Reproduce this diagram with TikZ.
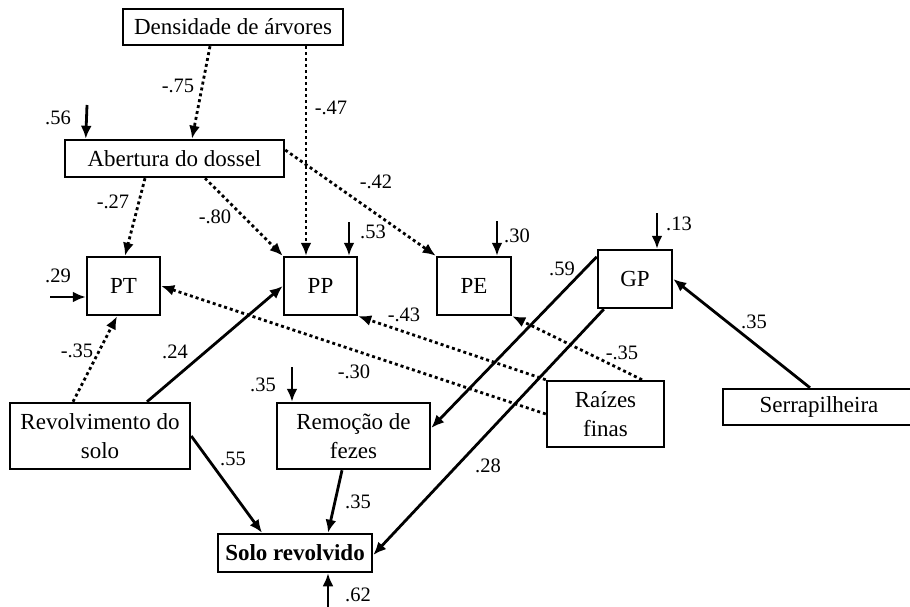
\documentclass[tikz,border=0pt]{standalone}
\usepackage{fontspec}
\setmainfont{Liberation Serif}
\usetikzlibrary{arrows.meta}
\begin{document}
\begin{tikzpicture}[x=1pt,y=-1pt,
  var/.style={draw, line width=2.5pt, rectangle, inner sep=0pt, align=center,
    font=\fontsize{23}{29}\selectfont},
  posarrow/.style={line width=2.8pt, -{Latex[length=13pt,width=11pt]}},
  negarrow/.style={posarrow, dash pattern=on 3pt off 3pt},
  coef/.style={font=\fontsize{20.5}{23}\selectfont, inner sep=0pt}]
\useasboundingbox (0,0) rectangle (910,607);

% variables
\node[var, minimum width=220pt, minimum height=36pt] (dens) at (233,27) {Densidade de árvores};
\node[var, minimum width=219pt, minimum height=37pt] (ab) at (174.5,158.5) {Abertura do dossel};
\node[var, minimum width=73pt, minimum height=58pt] (pt) at (123.5,286) {PT};
\node[var, minimum width=73pt, minimum height=58pt] (pp) at (320.5,286) {PP};
\node[var, minimum width=74pt, minimum height=58pt] (pe) at (474,286) {PE};
\node[var, minimum width=74pt, minimum height=58pt] (gp) at (635,279) {GP};
\node[var, minimum width=117pt, minimum height=66pt] (raiz) at (605.5,414) {Raízes\\finas};
\node[var, minimum width=192pt, minimum height=36pt] (serr) at (819,407) {Serrapilheira};
\node[var, minimum width=180pt, minimum height=66pt] (rev) at (100,436) {Revolvimento do\\solo};
\node[var, minimum width=153pt, minimum height=66pt] (rem) at (353.5,436) {Remoção de\\fezes};
\node[var, minimum width=154pt, minimum height=38pt] (solo) at (295,553) {\textbf{Solo revolvido}};

% error terms
\coordinate (eab) at (87,105);
\coordinate (ept) at (50,297);
\coordinate (epp) at (349,222);
\coordinate (epe) at (497,221);
\coordinate (egp) at (657,213);
\coordinate (erem) at (292,367);
\coordinate (esolo) at (328,612);

\draw[posarrow] (eab) -- ([xshift=22pt]ab.north west);
\draw[posarrow] (ept) -- ([yshift=-11pt]pt.west);
\draw[posarrow] (epp) -- ([xshift=28.5pt]pp.north);
\draw[posarrow] (epe) -- ([xshift=23pt]pe.north);
\draw[posarrow] (egp) -- ([xshift=22pt]gp.north);
\draw[posarrow] (erem) -- ([xshift=-61.5pt]rem.north);
\draw[posarrow] (esolo) -- ([xshift=33pt]solo.south);

% negative paths
\draw[negarrow] ([xshift=-23pt]dens.south) -- ([xshift=17.5pt]ab.north);
\draw[negarrow] ([xshift=73pt]dens.south) -- ([xshift=-14.5pt]pp.north);
\draw[negarrow] ([xshift=-29.5pt]ab.south) -- ([xshift=1.5pt]pt.north);
\draw[negarrow] ([xshift=30.5pt]ab.south) -- (pp.north west);
\draw[negarrow] ([yshift=8.5pt]ab.east) -- (pe.north west);
\draw[negarrow] ([xshift=-27pt]rev.north) -- ([xshift=-6.5pt]pt.south);
\draw[negarrow] (raiz.west) -- (pt.east);
\draw[negarrow] (raiz.north west) -- (pp.south east);
\draw[negarrow] ([xshift=36.5pt]raiz.north) -- (pe.south east);

% positive paths
\draw[posarrow] ([xshift=47pt]rev.north) -- (pp.west);
\draw[posarrow] (rev.east) -- ([xshift=-33pt]solo.north);
\draw[posarrow] ([xshift=-11.5pt]rem.south) -- ([xshift=33pt]solo.north);
\draw[posarrow] ([yshift=-8pt]gp.north west) -- ([yshift=8pt]rem.east);
\draw[posarrow] ([xshift=7pt]gp.south west) -- ([yshift=-2pt]solo.east);
\draw[posarrow] ([xshift=-9pt]serr.north) -- (gp.east);

% coefficients
\node[coef] (c1) at (178,86) {-.75};
\node[coef] (c2) at (331,108) {-.47};
\node[coef] (c3) at (58,118) {.56};
\node[coef] (c4) at (113,202) {-.27};
\node[coef] (c5) at (215,217) {-.80};
\node[coef] (c6) at (376,182) {-.42};
\node[coef] (c7) at (373,232) {.53};
\node[coef] (c8) at (517,236) {.30};
\node[coef] (c9) at (679,224) {.13};
\node[coef] (c10) at (58,276) {.29};
\node[coef] (c11) at (562,269) {.59};
\node[coef] (c12) at (754,322) {.35};
\node[coef] (c13) at (404,315) {-.43};
\node[coef] (c14) at (622,353) {-.35};
\node[coef] (c15) at (77,351) {-.35};
\node[coef] (c16) at (175,352) {.24};
\node[coef] (c17) at (354,372) {-.30};
\node[coef] (c18) at (263,385) {.35};
\node[coef] (c19) at (233,459) {.55};
\node[coef] (c20) at (358,502) {.35};
\node[coef] (c21) at (488,466) {.28};
\node[coef] (c22) at (358,595) {.62};
\end{tikzpicture}
\end{document}
